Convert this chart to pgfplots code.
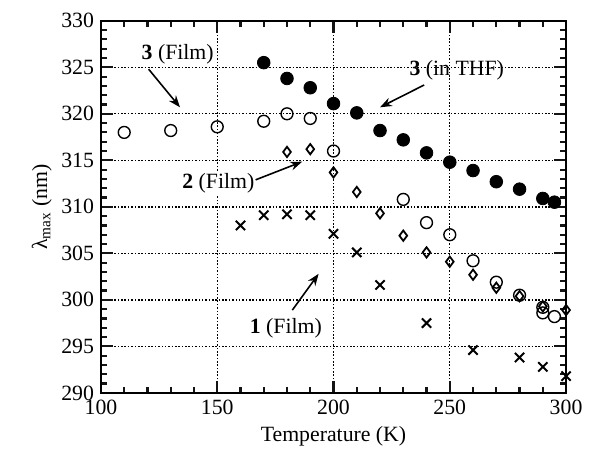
\documentclass[border=0pt]{standalone}
\usepackage{fontspec}
\setmainfont{Liberation Serif}
\usepackage{pgfplots}
\pgfplotsset{compat=1.18}
\usetikzlibrary{arrows.meta}
\definecolor{tk}{RGB}{20,20,20}

\begin{document}
\begin{tikzpicture}[font=\fontsize{11}{13}\selectfont]
\begin{axis}[
  name=ax,
  width=235pt, height=188pt, scale only axis,
  xmin=100, xmax=300, ymin=290, ymax=330,
  xtick={100,150,...,300}, ytick={290,295,...,330},
  minor x tick num=4, minor y tick num=4,
  tick align=inside,
  tick pos=both,
  major tick length=6pt, minor tick length=3pt,
  tick style={tk, line width=1.1pt},
  xmajorgrids=true, ymajorgrids=true,
  major grid style={black, line width=0.7pt, dash pattern=on 0.8pt off 0.9pt},
  xticklabel={\pgfmathparse{int(\tick)}\pgfmathresult},
  yticklabel={\pgfmathparse{int(\tick)}\pgfmathresult},
  xlabel={Temperature (K)},
  ylabel={λ\textsubscript{max} (nm)},
  xlabel style={yshift=1pt},
  ylabel style={yshift=-2pt},
]
% 3 in THF
\addplot[only marks, mark=*, mark size=3.2pt, mark options={fill=black, draw=black}] coordinates {
 (170,325.5) (180,323.8) (190,322.8) (200,321.1) (210,320.1) (220,318.2)
 (230,317.2) (240,315.8) (250,314.8) (260,313.9) (270,312.7) (280,311.9)
 (290,310.9) (295,310.5)};
% 3 film
\addplot[only marks, mark=o, mark size=3pt, mark options={draw=black, line width=0.7pt}] coordinates {
 (110,318.0) (130,318.2) (150,318.6) (170,319.2) (180,320.0) (190,319.5)
 (200,316.0) (230,310.8) (240,308.3) (250,307.0) (260,304.2) (270,301.9)
 (280,300.5) (290,299.2) (290,298.6) (295,298.2)};
% 2 film
\addplot[only marks, mark=diamond, mark size=2.6pt, mark options={draw=black, line width=0.9pt}] coordinates {
 (180,315.9) (190,316.2) (200,313.7) (210,311.6) (220,309.3) (230,306.9)
 (240,305.1) (250,304.1) (260,302.7) (270,301.3) (280,300.4) (290,299.3)
 (300,298.9)};
% 1 film
\addplot[only marks, mark=x, mark size=3.3pt, mark options={draw=black, line width=1pt}] coordinates {
 (160,308.0) (170,309.1) (180,309.2) (190,309.1) (200,307.1) (210,305.1)
 (220,301.6) (240,297.5) (260,294.6) (280,293.8) (290,292.8) (300,291.8)};

\node at (axis cs:133,326.4) {\textbf{3} (Film)};
\draw[-{Stealth[length=6pt,width=4.5pt]}, line width=0.8pt] (axis cs:120.5,324.8) -- (axis cs:134,320.7);
\node at (axis cs:253,324.7) {\textbf{3} (in THF)};
\draw[-{Stealth[length=6pt,width=4.5pt]}, line width=0.8pt] (axis cs:239,323.1) -- (axis cs:220,320.7);
\node[fill=white, inner sep=1pt] at (axis cs:150.5,312.5) {\textbf{2} (Film)};
\draw[-{Stealth[length=6pt,width=4.5pt]}, line width=0.8pt] (axis cs:166.5,312.9) -- (axis cs:186.5,314.85);
\node at (axis cs:179.5,296.9) {\textbf{1} (Film)};
\draw[-{Stealth[length=6pt,width=4.5pt]}, line width=0.8pt] (axis cs:182.3,298.9) -- (axis cs:193.6,302.8);
\end{axis}
% heavier frame round the axis box
\draw[line width=1pt] (ax.south west) rectangle (ax.north east);
\path ([xshift=-51pt,yshift=-33pt]ax.south west) ([xshift=8.5pt,yshift=10.5pt]ax.north east);
\end{tikzpicture}
\end{document}
